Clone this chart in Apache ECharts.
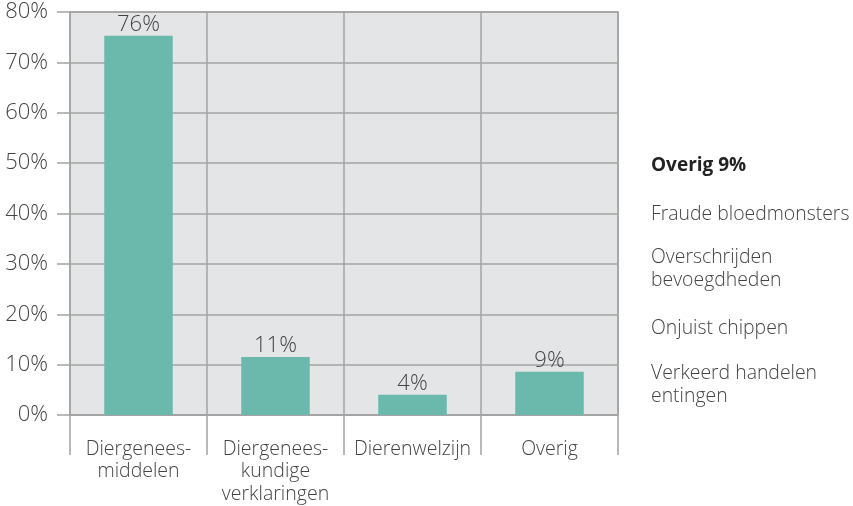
<!DOCTYPE html>
<html>
<head>
<meta charset="utf-8">
<script src="https://cdn.jsdelivr.net/npm/echarts@6/dist/echarts.min.js"></script>
<style>
  html, body { margin: 0; padding: 0; background: #fff; }
  #main { width: 853px; height: 506px; }
</style>
</head>
<body>
<div id="main"></div>
<script>
// categorieen en waarden
var categories = ['Diergenees-\nmiddelen', 'Diergenees-\nkundige\nverklaringen', 'Dierenwelzijn', 'Overig'];
var values = [75.3, 11.5, 4.0, 8.6];
var valueLabels = ['76%', '11%', '4%', '9%'];
var yTicks = [0, 10, 20, 30, 40, 50, 60, 70, 80];
var legendTitle = 'Overig 9%';
var legendItems = ['Fraude bloedmonsters', 'Overschrijden\nbevoegdheden', 'Onjuist chippen', 'Verkeerd handelen\nentingen'];

var lineColor = '#a3a3a3';
var textColor = '#444';
var font = '"Open Sans", sans-serif';

var myChart = echarts.init(document.getElementById('main'));

var legendY = [213, 256, 327, 372];
var graphics = [{
    type: 'text', left: 651, top: 156,
    style: { text: legendTitle, fontFamily: font, fontSize: 19, fontWeight: 'bold', fill: '#222' }
}];
legendItems.forEach(function (t, i) {
    graphics.push({
        type: 'text', left: 651, top: legendY[i] - 10,
        style: { text: t, fontFamily: font, fontSize: 19.4, fontWeight: 300, fill: textColor, lineHeight: 23 }
    });
});

var option = {
    animation: false,
    grid: {
        left: 70, right: 235, top: 12, bottom: 91,
        show: true,
        backgroundColor: '#e4e5e7',
        borderColor: lineColor,
        borderWidth: 1.5
    },
    xAxis: {
        type: 'category',
        data: categories,
        boundaryGap: true,
        axisLine: { show: true, lineStyle: { color: lineColor, width: 1.5 } },
        axisTick: { show: true, length: 40, interval: 0, lineStyle: { color: lineColor, width: 1.5 } },
        splitLine: { show: true, interval: 0, lineStyle: { color: lineColor, width: 1.5 } },
        axisLabel: {
            interval: 0, margin: 23, fontFamily: font, fontSize: 19.5, fontWeight: 300,
            color: textColor, lineHeight: 22.5
        }
    },
    yAxis: {
        type: 'value',
        min: yTicks[0],
        max: yTicks[yTicks.length - 1],
        interval: 10,
        axisLine: { show: false },
        axisTick: { show: true, length: 13, lineStyle: { color: lineColor, width: 1.5 } },
        splitLine: { show: true, lineStyle: { color: lineColor, width: 1.5 } },
        axisLabel: {
            formatter: '{value}%', margin: 22, fontFamily: font, fontSize: 22, fontWeight: 300, color: textColor
        }
    },
    series: [{
        type: 'bar',
        data: values,
        barWidth: '50%',
        itemStyle: { color: '#6bb8ad' },
        label: {
            show: true, position: 'top', distance: 0,
            fontFamily: font, fontSize: 22, fontWeight: 300, color: textColor,
            formatter: function (p) { return valueLabels[p.dataIndex]; }
        }
    }],
    graphic: graphics
};

myChart.setOption(option);
</script>
</body>
</html>
